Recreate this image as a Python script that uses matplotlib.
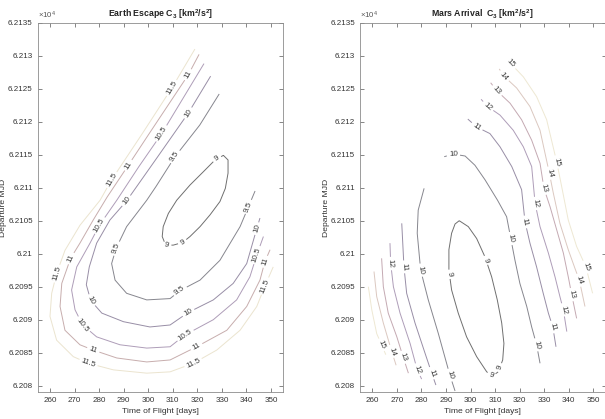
import numpy as np
import matplotlib
matplotlib.use('Agg')
import matplotlib.pyplot as plt
from matplotlib.contour import ContourSet
from matplotlib.ticker import FixedLocator, FuncFormatter

plt.rcParams['font.family'] = ['Liberation Sans', 'DejaVu Sans']
plt.rcParams['mathtext.fontset'] = 'custom'
plt.rcParams['mathtext.rm'] = 'Liberation Sans'
plt.rcParams['mathtext.bf'] = 'Liberation Sans:bold'
plt.rcParams['mathtext.default'] = 'regular'

# ---- Earth escape C3 contour lines (time of flight [days], departure MJD) ----
earth_levels = [9, 9.5, 10, 10.5, 11, 11.5]
earth_colors = ['#6f6f6f', '#86868e', '#988ea6', '#ae9db8', '#c7adad', '#ebe4cf']

earth_9 = [(330.6, 62114.9), (332.5, 62114.2), (332.5, 62112.2), (331.4, 62109.9),
           (329.2, 62107.9), (325.2, 62105.9), (321.1, 62104.1), (317.0, 62102.6),
           (314.0, 62101.7), (310.2, 62101.3), (307.1, 62101.3), (305.7, 62102.6),
           (306.1, 62104.1), (308.2, 62106.1), (311.6, 62108.1), (317.0, 62110.4),
           (322.4, 62112.4), (327.2, 62114.2), (330.6, 62114.9)]
earth_9_5 = [(328.9, 62124.2), (321.0, 62119.5), (310.9, 62114.7), (303.2, 62110.2),
             (299.4, 62108.1), (291.2, 62104.1), (286.9, 62100.8), (285.1, 62098.5),
             (286.5, 62096.0), (291.2, 62094.0), (299.4, 62093.0), (308.9, 62093.2),
             (312.9, 62094.4), (321.1, 62096.0), (329.2, 62099.0), (337.4, 62104.1),
             (340.8, 62107.1), (343.5, 62109.5)]
earth_10 = [(325.4, 62126.9), (316.3, 62121.3), (303.5, 62114.5), (291.2, 62108.0),
            (284.4, 62105.1), (279.0, 62101.6), (276.0, 62098.0), (274.8, 62095.3),
            (276.6, 62092.9), (281.1, 62091.0), (289.9, 62089.7), (300.7, 62088.9),
            (308.9, 62089.2), (316.3, 62091.1), (326.5, 62093.0), (334.6, 62095.5),
            (340.1, 62098.5), (344.2, 62103.8), (345.5, 62105.4)]
earth_10_5 = [(322.7, 62128.8), (305.5, 62118.2), (296.2, 62113.2), (287.2, 62108.1),
              (280.1, 62104.3), (276.3, 62101.6), (270.9, 62098.0), (268.8, 62094.5),
              (270.2, 62091.5), (273.3, 62089.2), (279.0, 62087.4), (288.5, 62086.2),
              (299.4, 62085.7), (308.9, 62085.9), (315.0, 62087.7), (326.5, 62090.0),
              (336.0, 62093.0), (341.4, 62096.5), (344.2, 62099.8), (346.9, 62102.6)]
earth_11 = [(320.7, 62130.2), (316.3, 62127.1), (300.4, 62118.2), (291.9, 62113.4),
            (283.3, 62108.6), (277.6, 62105.1), (272.2, 62101.6), (268.4, 62099.3),
            (264.8, 62095.5), (264.1, 62092.0), (266.1, 62088.4), (272.2, 62086.2),
            (277.6, 62085.4), (287.2, 62084.2), (299.4, 62083.6), (308.9, 62083.9),
            (319.7, 62085.9), (332.0, 62088.4), (340.1, 62092.0), (345.5, 62096.0),
            (347.5, 62098.8), (349.6, 62100.6)]
earth_11_5 = [(319.0, 62131.0), (309.6, 62125.1), (297.6, 62118.2), (285.1, 62111.2),
              (280.4, 62108.1), (272.2, 62104.3), (266.1, 62100.5), (262.7, 62097.0),
              (260.7, 62094.0), (260.0, 62090.5), (262.7, 62086.9), (269.5, 62084.4),
              (275.6, 62083.4), (285.8, 62082.4), (299.4, 62081.9), (308.9, 62082.1),
              (318.4, 62083.4), (327.9, 62085.4), (337.4, 62088.4), (344.2, 62092.0),
              (347.5, 62095.1), (350.9, 62098.0)]

earth_label_pos = [(328.1, 62114.3), (307.5, 62101.2), (314.0, 62101.7),
                   (310.9, 62114.7), (286.9, 62100.8), (312.9, 62094.4), (340.8, 62107.1),
                   (316.3, 62121.3), (291.2, 62108.0), (276.6, 62092.9), (316.3, 62091.1), (344.2, 62103.8),
                   (305.5, 62118.2), (280.1, 62104.3), (273.3, 62089.2), (315.0, 62087.7), (344.2, 62099.8),
                   (316.3, 62127.1), (291.9, 62113.4), (268.4, 62099.3), (277.6, 62085.4), (319.7, 62085.9), (347.5, 62098.8),
                   (309.6, 62125.1), (285.1, 62111.2), (262.7, 62097.0), (275.6, 62083.4), (318.4, 62083.4), (347.5, 62095.1)]

# ---- Mars arrival C3 contour lines ----
mars_levels = [9, 10, 11, 12, 13, 14, 15]
mars_colors = ['#6f6f6f', '#86868e', '#988ea6', '#ae9db8', '#c4a9b2', '#dbc8c0', '#eee8d3']

mars_9 = [(295.4, 62105.0), (299.1, 62104.1), (302.5, 62102.3), (305.9, 62099.5),
          (308.6, 62096.5), (310.9, 62093.0), (312.7, 62089.5), (313.6, 62086.4),
          (313.1, 62083.9), (311.3, 62082.1), (309.0, 62081.5), (306.6, 62082.1),
          (302.5, 62084.4), (298.4, 62087.4), (295.0, 62091.0), (292.3, 62094.5),
          (291.2, 62097.5), (291.2, 62100.6), (292.3, 62103.1), (293.7, 62104.5),
          (295.4, 62105.0)]
mars_10_left = [(281.1, 62109.9), (278.7, 62106.6), (278.3, 62103.1), (279.7, 62097.5),
                (282.8, 62093.0), (286.9, 62087.9), (291.6, 62081.6), (293.7, 62079.2)]
mars_10_right = [(289.3, 62114.7), (293.0, 62115.1), (297.8, 62114.8), (301.8, 62113.4),
                 (305.9, 62111.2), (311.0, 62108.1), (314.7, 62105.6), (316.4, 62102.3),
                 (318.1, 62099.0), (320.1, 62095.5), (322.9, 62092.0), (324.9, 62088.9),
                 (326.9, 62086.2), (328.3, 62083.4)]
mars_11_left = [(272.0, 62104.6), (272.9, 62098.0), (274.0, 62094.0), (277.4, 62089.5),
                (281.5, 62084.9), (284.2, 62081.9), (285.9, 62080.1)]
mars_11_right = [(298.9, 62120.4), (302.5, 62119.2), (307.9, 62118.2), (312.0, 62116.2),
                 (316.8, 62113.2), (320.8, 62109.7), (322.2, 62104.8), (324.2, 62101.6),
                 (326.9, 62098.0), (329.6, 62094.0), (331.7, 62091.0), (333.5, 62088.9),
                 (334.8, 62085.9)]
mars_12_left = [(267.2, 62101.6), (267.5, 62098.5), (268.6, 62095.0), (271.3, 62091.0),
                (275.4, 62086.4), (278.3, 62082.4), (280.1, 62081.0)]
mars_12_right = [(304.3, 62123.4), (307.0, 62122.3), (312.0, 62121.0), (317.4, 62118.7),
                 (321.5, 62116.2), (324.9, 62113.2), (326.3, 62107.6), (328.3, 62104.1),
                 (331.7, 62100.1), (334.4, 62096.5), (336.4, 62093.5), (337.8, 62091.5),
                 (339.2, 62088.2)]
mars_13_left = [(263.8, 62099.3), (264.5, 62095.0), (266.5, 62091.0), (270.0, 62087.4),
                (272.6, 62084.3), (274.7, 62081.9)]
mars_13_right = [(308.2, 62125.9), (310.7, 62124.7), (316.1, 62122.8), (320.8, 62120.3),
                 (324.9, 62117.2), (328.3, 62113.7), (329.9, 62109.9), (332.4, 62107.1),
                 (335.1, 62103.6), (337.8, 62100.1), (339.8, 62096.5), (341.2, 62093.8),
                 (343.2, 62090.2)]
mars_14_left = [(260.7, 62097.3), (261.8, 62093.5), (264.5, 62089.5), (267.9, 62085.2),
                (269.7, 62083.1)]
mars_14_right = [(311.7, 62128.0), (313.6, 62126.9), (318.8, 62125.1), (324.2, 62122.3),
                 (328.3, 62118.7), (332.1, 62112.2), (333.7, 62109.2), (336.4, 62104.6),
                 (339.8, 62100.6), (342.5, 62097.8), (344.3, 62096.0), (346.6, 62092.0)]
mars_15_left = [(258.4, 62095.0), (259.8, 62091.5), (261.8, 62087.9), (263.8, 62086.2),
                (265.5, 62084.7)]
mars_15_right = [(314.4, 62129.5), (316.4, 62128.8), (321.5, 62126.8), (326.9, 62123.8),
                 (331.0, 62120.3), (335.1, 62113.9), (337.1, 62110.2), (339.8, 62105.1),
                 (343.2, 62101.1), (347.0, 62098.0), (349.7, 62094.0)]

mars_label_pos = [(306.3, 62099.0), (291.9, 62096.9), (313.0, 62082.6), (308.6, 62081.6),
                  (293.0, 62115.1), (316.4, 62102.3), (326.9, 62086.2), (279.7, 62097.5), (291.6, 62081.6),
                  (302.5, 62119.2), (322.2, 62104.8), (333.5, 62088.9), (272.9, 62098.0), (284.2, 62081.9),
                  (307.0, 62122.3), (326.3, 62107.6), (337.8, 62091.5), (267.5, 62098.5), (278.3, 62082.4),
                  (310.7, 62124.7), (329.9, 62109.9), (341.2, 62093.8), (272.6, 62084.3),
                  (313.6, 62126.9), (332.1, 62112.2), (344.3, 62096.0), (267.9, 62085.2),
                  (316.4, 62128.8), (335.1, 62113.9), (347.0, 62098.0), (263.8, 62086.2)]

x_ticks = [260, 270, 280, 290, 300, 310, 320, 330, 340, 350]
y_ticks = list(range(62080, 62140, 5))

fig = plt.figure(figsize=(6.05, 4.19), dpi=100)
ax1 = fig.add_axes([37.7 / 605, 26.7 / 419, 245.6 / 605, 369.6 / 419])
ax2 = fig.add_axes([360.0 / 605, 26.7 / 419, 245.6 / 605, 369.6 / 419])


def draw_panel(ax, levels, colors, curves, label_pos, title):
    segs = [[np.array(c) for c in lv] for lv in curves]
    cs = ContourSet(ax, levels, segs, colors=colors, linewidths=0.7)
    ax.clabel(cs, manual=label_pos, inline=True, inline_spacing=3, fmt='%g',
              fontsize=5.8, colors='#3a3a3a')
    ax.set_xlim(255, 355)
    ax.set_ylim(62079, 62135)
    ax.xaxis.set_major_locator(FixedLocator(x_ticks))
    ax.yaxis.set_major_locator(FixedLocator(y_ticks))
    ax.yaxis.set_major_formatter(FuncFormatter(lambda v, p: '%g' % round(v / 1e4, 5)))
    ax.tick_params(direction='in', length=3, width=0.5, top=True, right=True,
                   labelsize=5.8, colors='#555555', labelcolor='#333333', pad=3.5)
    for s in ax.spines.values():
        s.set_color('#8c8c8c')
        s.set_linewidth(0.6)
    ax.set_title(title, fontsize=6.3, fontweight='bold', pad=4, color='#222222')
    ax.set_xlabel('Time of Flight [days]', fontsize=6.1, color='#333333', labelpad=2.5)
    ax.set_ylabel('Departure MJD', fontsize=6.1, color='#333333')
    ax.yaxis.set_label_coords(-0.123, 0.5)
    ax.text(0.0, 1.004, r'×10$^{4}$', transform=ax.transAxes, ha='left', va='bottom',
            fontsize=5.6, color='#555555')


draw_panel(ax1, earth_levels, earth_colors,
           [[earth_9], [earth_9_5], [earth_10], [earth_10_5], [earth_11], [earth_11_5]],
           earth_label_pos, r'Earth Escape C$_\mathbf{3}$ [km$^\mathbf{2}$/s$^\mathbf{2}$]')
draw_panel(ax2, mars_levels, mars_colors,
           [[mars_9], [mars_10_left, mars_10_right], [mars_11_left, mars_11_right],
            [mars_12_left, mars_12_right], [mars_13_left, mars_13_right],
            [mars_14_left, mars_14_right], [mars_15_left, mars_15_right]],
           mars_label_pos, r'Mars Arrival  C$_\mathbf{3}$ [km$^\mathbf{2}$/s$^\mathbf{2}$]')

fig.savefig('out.png', dpi=100)
